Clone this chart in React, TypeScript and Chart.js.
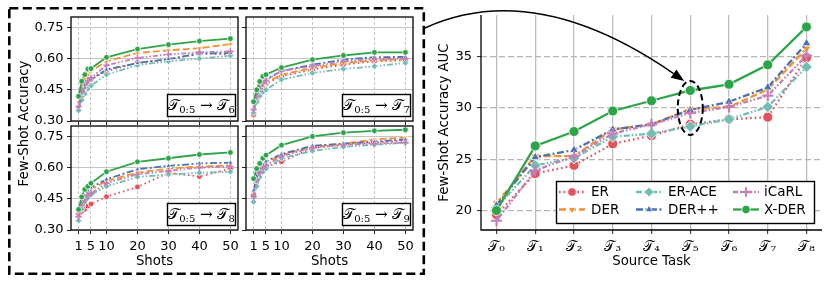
import { useEffect, useRef } from 'react';
import { Chart, registerables } from 'chart.js';
import { drawPoint } from 'chart.js/helpers';

Chart.register(...registerables);

const W = 830;
const H = 283;

// ---------- series meta ----------
const methods = ['ER', 'DER', 'ER-ACE', 'DER++', 'iCaRL', 'X-DER'];
const colors = ['#e4525b', '#f7902e', '#72bdb6', '#4a72b0', '#c47fb8', '#2ea449'];
const pointStyles = ['circle', 'triangle', 'rectRot', 'triangle', 'cross', 'circle'];
const pointRotations = [0, 180, 0, 0, 0, 0];
const dashes: number[][] = [[1.6, 3], [7, 3], [6, 2, 1.6, 2, 1.6, 2], [7, 2.5, 2, 2.5], [5, 2, 1.6, 2, 1.6, 2], []];

// ---------- left panels (few-shot accuracy vs shots) ----------
const shots = [1, 2, 3, 4, 5, 10, 20, 30, 40, 50];
const shotTicks = [1, 5, 10, 20, 30, 40, 50];
const accTicks = [0.3, 0.45, 0.6, 0.75];
const targetTasks = [6, 7, 8, 9];

// rows: ER, DER, ER-ACE, DER++, iCaRL, X-DER
const accT6: number[][] = [
  [0.355, 0.42, 0.46, 0.485, 0.5, 0.54, 0.58, 0.595, 0.625, 0.62],
  [0.39, 0.46, 0.5, 0.52, 0.54, 0.587, 0.627, 0.64, 0.65, 0.67],
  [0.35, 0.4, 0.43, 0.455, 0.47, 0.523, 0.569, 0.587, 0.6, 0.614],
  [0.367, 0.43, 0.46, 0.485, 0.5, 0.547, 0.579, 0.598, 0.624, 0.627],
  [0.37, 0.44, 0.475, 0.495, 0.507, 0.568, 0.603, 0.62, 0.63, 0.635],
  [0.419, 0.491, 0.523, 0.55, 0.552, 0.606, 0.646, 0.667, 0.684, 0.696],
];
const accT7: number[][] = [
  [0.33, 0.4, 0.44, 0.465, 0.48, 0.515, 0.547, 0.571, 0.587, 0.592],
  [0.34, 0.41, 0.445, 0.47, 0.483, 0.523, 0.555, 0.579, 0.592, 0.598],
  [0.34, 0.39, 0.42, 0.44, 0.45, 0.499, 0.531, 0.55, 0.563, 0.579],
  [0.355, 0.43, 0.46, 0.485, 0.5, 0.54, 0.571, 0.595, 0.607, 0.608],
  [0.355, 0.42, 0.455, 0.48, 0.495, 0.542, 0.563, 0.587, 0.598, 0.6],
  [0.393, 0.45, 0.49, 0.515, 0.523, 0.557, 0.595, 0.615, 0.63, 0.63],
];
const accT8: number[][] = [
  [0.375, 0.39, 0.4, 0.415, 0.425, 0.46, 0.507, 0.575, 0.557, 0.595],
  [0.36, 0.42, 0.455, 0.48, 0.495, 0.536, 0.576, 0.595, 0.605, 0.611],
  [0.345, 0.4, 0.435, 0.455, 0.47, 0.51, 0.555, 0.567, 0.575, 0.58],
  [0.37, 0.43, 0.465, 0.49, 0.504, 0.544, 0.592, 0.608, 0.62, 0.624],
  [0.364, 0.42, 0.445, 0.465, 0.476, 0.525, 0.568, 0.584, 0.6, 0.605],
  [0.399, 0.459, 0.495, 0.51, 0.525, 0.58, 0.628, 0.645, 0.663, 0.673],
];
const accT9: number[][] = [
  [0.47, 0.54, 0.575, 0.595, 0.605, 0.628, 0.695, 0.71, 0.72, 0.73],
  [0.48, 0.55, 0.59, 0.61, 0.625, 0.66, 0.7, 0.715, 0.735, 0.745],
  [0.435, 0.51, 0.555, 0.58, 0.595, 0.645, 0.68, 0.7, 0.71, 0.72],
  [0.49, 0.56, 0.595, 0.615, 0.63, 0.665, 0.705, 0.715, 0.725, 0.735],
  [0.46, 0.54, 0.575, 0.6, 0.61, 0.655, 0.695, 0.71, 0.715, 0.72],
  [0.547, 0.595, 0.62, 0.645, 0.66, 0.708, 0.75, 0.768, 0.777, 0.782],
];
const panelData = [accT6, accT7, accT8, accT9];

// ---------- right chart (AUC vs source task) ----------
const sourceTasks = [0, 1, 2, 3, 4, 5, 6, 7, 8];
const subDigits = ['₀', '₁', '₂', '₃', '₄', '₅', '₆', '₇', '₈', '₉'];
const aucTicks = [20, 25, 30, 35];
const aucER = [19.6, 23.6, 24.4, 26.5, 27.3, 28.4, 28.9, 29.1, 34.9];
const aucDER = [20.7, 25.3, 25.3, 27.9, 28.4, 29.9, 30.1, 31.8, 35.8];
const aucERACE = [20.3, 24.4, 25.1, 27.2, 27.5, 28.2, 28.9, 30.1, 34.0];
const aucDERpp = [20.5, 25.2, 25.9, 27.9, 28.4, 29.8, 30.6, 32.0, 36.3];
const aucICaRL = [19.0, 23.9, 25.3, 27.5, 28.4, 29.5, 30.1, 31.2, 35.1];
const aucXDER = [20.0, 26.3, 27.7, 29.7, 30.7, 31.7, 32.3, 34.2, 37.9];
const aucData = [aucER, aucDER, aucERACE, aucDERpp, aucICaRL, aucXDER];

const SANS = '"DejaVu Sans", sans-serif';
const SERIF = '"DejaVu Serif", "DejaVu Sans", serif';

type Area = { l: number; t: number; r: number; b: number };

function makeDatasets(values: number[][], xs: number[], lw: number, pr: number) {
  return methods.map((m, i) => ({
    label: m,
    data: xs.map((x, j) => ({ x, y: values[i][j] })),
    borderColor: colors[i],
    backgroundColor: colors[i],
    borderWidth: lw,
    borderDash: dashes[i],
    pointStyle: pointStyles[i],
    pointRotation: pointRotations[i],
    pointRadius: i === 4 ? pr * 1.1 : i === 2 ? pr * 1.15 : pr,
    pointBackgroundColor: colors[i],
    pointBorderColor: i === 4 ? colors[i] : '#ffffff',
    pointBorderWidth: i === 4 ? lw * 0.9 : 0.8,
    order: 5 - i,
    tension: 0,
    fill: false,
  }));
}

function drawTaskBox(ctx: CanvasRenderingContext2D, ca: any, target: number) {
  const bw = 68;
  const bh = 22;
  const x0 = ca.right - 2.5 - bw;
  const y0 = ca.bottom - 4.5 - bh;
  ctx.save();
  ctx.setLineDash([]);
  ctx.fillStyle = '#ffffff';
  ctx.fillRect(x0, y0, bw, bh);
  ctx.lineWidth = 1.4;
  ctx.strokeStyle = '#000';
  ctx.strokeRect(x0, y0, bw, bh);
  const big = `15px ${SERIF}`;
  const small = `10px ${SERIF}`;
  const pieces: [string, string, number][] = [
    ['𝒯', big, 0],
    ['0:5', small, 3],
    [' → ', big, 0],
    ['𝒯', big, 0],
    [String(target), small, 3],
  ];
  let total = 0;
  const widths = pieces.map(([t, f]) => {
    ctx.font = f;
    const w = ctx.measureText(t).width;
    total += w;
    return w;
  });
  let x = x0 + (bw - total) / 2;
  const base = y0 + bh / 2 + 4.5;
  ctx.fillStyle = '#000';
  ctx.textBaseline = 'alphabetic';
  ctx.textAlign = 'left';
  pieces.forEach(([t, f, dy], k) => {
    ctx.font = f;
    ctx.fillText(t, x, base + dy);
    x += widths[k];
  });
  ctx.restore();
}

function panelConfig(area: Area, values: number[][], target: number, showX: boolean, showY: boolean, drawYTitle: boolean): any {
  const yw = 40;
  const xh = showX ? 40 : 4;
  return {
    type: 'line',
    data: { datasets: makeDatasets(values, shots, 1.8, 2.9) },
    options: {
      responsive: false,
      animation: false,
      events: [],
      layout: { padding: { left: area.l - yw, top: area.t, right: W - area.r, bottom: H - area.b - xh } },
      plugins: { legend: { display: false }, tooltip: { enabled: false }, title: { display: false } },
      scales: {
        x: {
          type: 'linear',
          min: -1.45,
          max: 52.45,
          afterBuildTicks: (s: any) => {
            s.ticks = shotTicks.map((v) => ({ value: v }));
          },
          afterFit: (s: any) => {
            s.height = xh;
          },
          ticks: { display: showX, padding: 5, color: '#000', font: { family: SANS, size: 13 }, callback: (v: any) => String(v) },
          grid: { color: '#c4c4c4', lineWidth: 1, tickLength: 4, tickColor: '#222', tickWidth: 1 },
          border: { display: false, dash: [3, 2] },
          title: { display: showX, text: 'Shots', padding: 0, color: '#000', font: { family: SANS, size: 13.3 } },
        },
        y: {
          type: 'linear',
          min: 0.3,
          max: 0.8,
          afterBuildTicks: (s: any) => {
            s.ticks = accTicks.map((v) => ({ value: v }));
          },
          afterFit: (s: any) => {
            s.width = yw;
          },
          ticks: { display: showY, padding: 3.5, color: '#000', font: { family: SANS, size: 13 }, callback: (v: any) => Number(v).toFixed(2) },
          grid: { color: '#c4c4c4', lineWidth: 1, tickLength: 4, tickColor: '#222', tickWidth: 1 },
          border: { display: false },
        },
      },
    },
    plugins: [
      {
        id: 'panelDeco',
        afterDraw(chart: any) {
          const ctx = chart.ctx as CanvasRenderingContext2D;
          const ca = chart.chartArea;
          ctx.save();
          ctx.setLineDash([]);
          ctx.lineWidth = 1.3;
          ctx.strokeStyle = '#000';
          ctx.strokeRect(ca.left, ca.top, ca.right - ca.left, ca.bottom - ca.top);
          ctx.restore();
          drawTaskBox(ctx, ca, target);
          if (drawYTitle) {
            ctx.save();
            ctx.translate(25, 123.5);
            ctx.rotate(-Math.PI / 2);
            ctx.font = `13.3px ${SANS}`;
            ctx.fillStyle = '#000';
            ctx.textAlign = 'center';
            ctx.textBaseline = 'middle';
            ctx.fillText('Few-Shot Accuracy', 0, 0);
            ctx.restore();
          }
        },
      },
    ],
  };
}

function rightConfig(): any {
  const area: Area = { l: 481, t: 15, r: 822, b: 230 };
  const yw = 44;
  const xh = 40;
  return {
    type: 'line',
    data: { datasets: makeDatasets(aucData, sourceTasks, 2.3, 5) },
    options: {
      responsive: false,
      animation: false,
      events: [],
      layout: { padding: { left: area.l - yw, top: area.t, right: W - area.r, bottom: H - area.b - xh } },
      plugins: { legend: { display: false }, tooltip: { enabled: false }, title: { display: false } },
      scales: {
        x: {
          type: 'linear',
          min: -0.4,
          max: 8.4,
          afterBuildTicks: (s: any) => {
            s.ticks = sourceTasks.map((v) => ({ value: v }));
          },
          afterFit: (s: any) => {
            s.height = xh;
          },
          ticks: {
            padding: 5,
            color: '#000',
            font: { family: SERIF, size: 14 },
            callback: (v: any) => '𝒯' + subDigits[Number(v)],
          },
          grid: { color: '#bdbdbd', lineWidth: 1.3, tickLength: 4, tickColor: '#222', tickWidth: 1 },
          border: { display: false },
          title: { display: true, text: 'Source Task', padding: 0, color: '#000', font: { family: SANS, size: 13.3 } },
        },
        y: {
          type: 'linear',
          min: 18.1,
          max: 39.06,
          afterBuildTicks: (s: any) => {
            s.ticks = aucTicks.map((v) => ({ value: v }));
          },
          afterFit: (s: any) => {
            s.width = yw;
          },
          ticks: { padding: 5, color: '#000', font: { family: SANS, size: 13 }, callback: (v: any) => String(v) },
          grid: { color: '#b5b5b5', lineWidth: 1.2, tickLength: 4, tickColor: '#222', tickWidth: 1 },
          border: { display: false, dash: [6, 3] },
          title: { display: true, text: 'Few-Shot Accuracy AUC', padding: 0, color: '#000', font: { family: SANS, size: 13.3 } },
        },
      },
    },
    plugins: [
      {
        id: 'rightDeco',
        afterDraw(chart: any) {
          const ctx = chart.ctx as CanvasRenderingContext2D;
          const ca = chart.chartArea;
          const xs = chart.scales.x;
          const ys = chart.scales.y;
          ctx.save();
          // spines (left + bottom)
          ctx.setLineDash([]);
          ctx.strokeStyle = '#000';
          ctx.lineWidth = 1.3;
          ctx.beginPath();
          ctx.moveTo(ca.left, ca.top);
          ctx.lineTo(ca.left, ca.bottom);
          ctx.lineTo(ca.right, ca.bottom);
          ctx.stroke();

          // dashed frame around the left panels
          ctx.lineWidth = 2.6;
          ctx.setLineDash([9, 4.5]);
          ctx.strokeRect(9.3, 8.3, 414.5, 265.5);

          // ellipse around T5
          const ex = xs.getPixelForValue(5);
          const ey = ys.getPixelForValue(30.0);
          ctx.lineWidth = 2;
          ctx.setLineDash([6, 3.5]);
          ctx.beginPath();
          ctx.ellipse(ex, ey, 12.5, 27, 0, 0, Math.PI * 2);
          ctx.stroke();

          // curved arrow
          const p0 = { x: 425, y: 28 };
          const tip = { x: ex - 6, y: ey - 27 };
          const c = { x: 535, y: -22 };
          const ang = Math.atan2(tip.y - c.y, tip.x - c.x);
          const hl = 13;
          const hw = 5;
          const base = { x: tip.x - hl * Math.cos(ang), y: tip.y - hl * Math.sin(ang) };
          ctx.setLineDash([]);
          ctx.lineWidth = 1.5;
          ctx.beginPath();
          ctx.moveTo(p0.x, p0.y);
          ctx.quadraticCurveTo(c.x, c.y, base.x, base.y);
          ctx.stroke();
          ctx.fillStyle = '#000';
          ctx.beginPath();
          ctx.moveTo(tip.x, tip.y);
          ctx.lineTo(base.x + hw * Math.sin(ang), base.y - hw * Math.cos(ang));
          ctx.lineTo(base.x - hw * Math.sin(ang), base.y + hw * Math.cos(ang));
          ctx.closePath();
          ctx.fill();

          // legend
          const lx = 556.5;
          const ly = 181.5;
          ctx.fillStyle = '#fff';
          ctx.fillRect(lx, ly, 258, 42);
          ctx.lineWidth = 1.4;
          ctx.strokeStyle = '#000';
          ctx.strokeRect(lx, ly, 258, 42);
          const colHandle = [559, 636, 733];
          const colText = [591, 668, 764];
          const rowY = [192, 209.5];
          chart.data.datasets.forEach((ds: any, i: number) => {
            const col = Math.floor(i / 2);
            const row = i % 2;
            const hx = colHandle[col];
            const y = rowY[row];
            ctx.save();
            ctx.strokeStyle = ds.borderColor;
            ctx.lineWidth = ds.borderWidth;
            ctx.setLineDash(ds.borderDash);
            ctx.beginPath();
            ctx.moveTo(hx, y);
            ctx.lineTo(hx + 26, y);
            ctx.stroke();
            ctx.setLineDash([]);
            ctx.fillStyle = ds.pointBackgroundColor;
            ctx.strokeStyle = ds.pointBorderColor;
            ctx.lineWidth = ds.pointBorderWidth;
            drawPoint(ctx, { pointStyle: ds.pointStyle, rotation: ds.pointRotation, radius: ds.pointRadius * 0.85, borderWidth: ds.pointBorderWidth }, hx + 13, y);
            ctx.restore();
            ctx.fillStyle = '#000';
            ctx.font = `13.5px ${SANS}`;
            ctx.textAlign = 'left';
            ctx.textBaseline = 'middle';
            ctx.fillText(ds.label, colText[col], y + 0.5);
          });
          ctx.restore();
        },
      },
    ],
  };
}

const panelAreas: Area[] = [
  { l: 71, t: 17, r: 238, b: 121 },
  { l: 246, t: 17, r: 413, b: 121 },
  { l: 71, t: 126, r: 238, b: 230 },
  { l: 246, t: 126, r: 413, b: 230 },
];

export default function App() {
  const canvases = useRef<(HTMLCanvasElement | null)[]>([]);
  useEffect(() => {
    const charts: Chart[] = [];
    const c0 = canvases.current[0];
    if (c0) charts.push(new Chart(c0, rightConfig()));
    panelAreas.forEach((a, k) => {
      const cv = canvases.current[k + 1];
      if (!cv) return;
      charts.push(new Chart(cv, panelConfig(a, panelData[k], targetTasks[k], k >= 2, k % 2 === 0, k === 0)));
    });
    return () => charts.forEach((c) => c.destroy());
  }, []);
  return (
    <div style={{ position: 'absolute', left: 0, top: 0, width: W, height: H, background: '#fff', overflow: 'hidden' }}>
      {[0, 1, 2, 3, 4].map((i) => (
        <canvas
          key={i}
          ref={(el) => {
            canvases.current[i] = el;
          }}
          width={W}
          height={H}
          style={{ position: 'absolute', left: 0, top: 0, width: W, height: H }}
        />
      ))}
    </div>
  );
}
